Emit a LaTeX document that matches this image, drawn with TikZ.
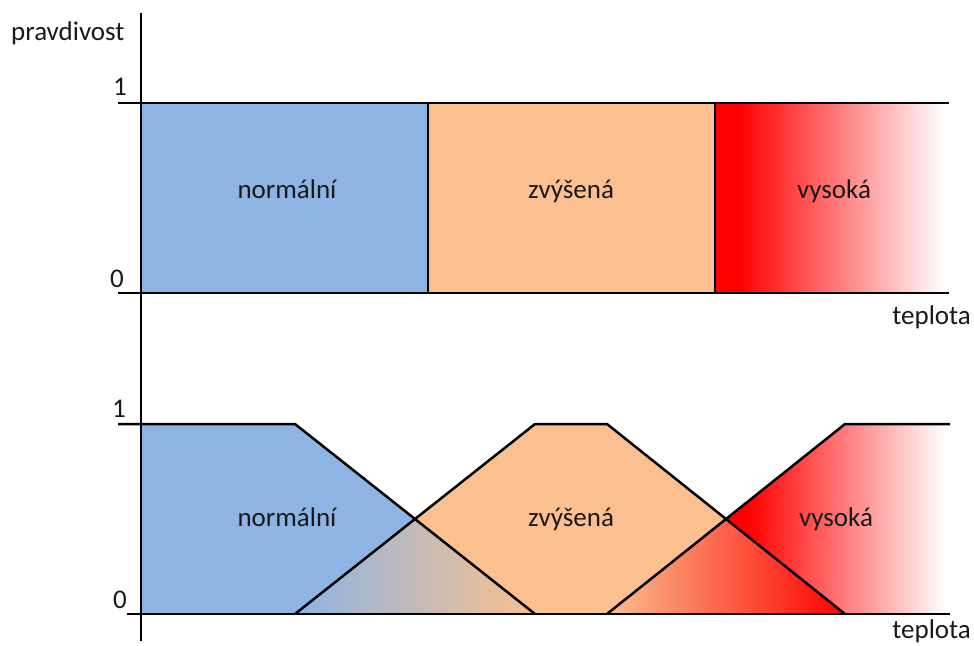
\documentclass[tikz,border=0pt]{standalone}
\usepackage{fontspec}
\setmainfont{Carlito}
\definecolor{fzblue}{RGB}{141,180,226}
\definecolor{fzorange}{RGB}{250,192,143}
\definecolor{fzred}{RGB}{255,0,0}
\definecolor{fztext}{RGB}{25,25,25}
\pgfdeclarehorizontalshading{redfade}{100bp}{color(0bp)=(fzred); color(25bp)=(fzred); color(30bp)=(fzred); color(74bp)=(white); color(100bp)=(white)}
\tikzset{
  axisline/.style={line width=2.6pt, draw=black},
  edgeline/.style={line width=2.5pt, draw=black},
  lbl/.style={font=\fontsize{27}{32}\selectfont, text=fztext, inner sep=0pt, anchor=base},
}
\begin{document}
\begin{tikzpicture}[x=1pt,y=-1pt]
\useasboundingbox (0,0) rectangle (974,645);
% ---------- top chart ----------
\coordinate (tA) at (141,103);
\coordinate (tB) at (428,103);
\coordinate (tC) at (715,103);
\coordinate (tD) at (949,103);
\coordinate (tA0) at (141,293);
\coordinate (tB0) at (428,293);
\coordinate (tC0) at (715,293);
\coordinate (tD0) at (949,293);
\fill[fzblue] (tA) rectangle (tB0);
\fill[fzorange] (tB) rectangle (tC0);
\shade[shading=redfade] (tC) rectangle (tD0);
\coordinate (t1s) at (118,103);
\coordinate (t0s) at (118,293);
\draw[edgeline] (t1s) -- (tD);
\draw[edgeline] (t0s) -- (tD0);
\draw[edgeline] (tB) -- (tB0);
\draw[edgeline] (tC) -- (tC0);
% ---------- bottom chart ----------
\coordinate (bL1) at (141,424);
\coordinate (bL0) at (141,614);
\coordinate (n1) at (295,424);
\coordinate (n0) at (535,614);
\coordinate (z0a) at (295,614);
\coordinate (z1a) at (535,424);
\coordinate (z1b) at (607,424);
\coordinate (z0b) at (845,614);
\coordinate (v0) at (607,614);
\coordinate (v1) at (845,424);
\coordinate (vE1) at (950,424);
\coordinate (vE0) at (950,614);
\coordinate (X1) at (415,519);
\coordinate (X2) at (726,519);
% fills
\fill[fzblue] (bL1) -- (n1) -- (X1) -- (z0a) -- (bL0) -- cycle;
\shade[left color=fzblue, right color=fzorange] (z0a) -- (X1) -- (n0) -- cycle;
\fill[fzorange] (X1) -- (z1a) -- (z1b) -- (X2) -- (v0) -- (n0) -- cycle;
\shade[left color=fzorange, right color=fzred] (v0) -- (X2) -- (z0b) -- cycle;
\shade[shading=redfade] (X2) -- (v1) -- (vE1) -- (vE0) -- (z0b) -- cycle;
% outlines
\coordinate (b1s) at (118,424);
\coordinate (b0s) at (127,614);
\draw[edgeline] (b0s) -- (vE0);
\draw[edgeline, line join=round] (b1s) -- (n1) -- (n0);
\draw[edgeline, line join=round] (z0a) -- (z1a) -- (z1b) -- (z0b);
\draw[edgeline, line join=round] (v0) -- (v1) -- (vE1);
% vertical axis
\coordinate (axT) at (141,13);
\coordinate (axB) at (141,641);
\draw[axisline] (axT) -- (axB);
% ---------- labels ----------
\node[lbl, anchor=base west] (ylab) at (11,40) {pravdivost};
\node[lbl, anchor=base east] (t1) at (127,95) {1};
\node[lbl, anchor=base east] (t0) at (124,287) {0};
\node[lbl, anchor=base east] (b1) at (126,417) {1};
\node[lbl, anchor=base east] (b0) at (127,608) {0};
\node[lbl, anchor=base east] (xlabT) at (971,324) {teplota};
\node[lbl, anchor=base east] (xlabB) at (971,638) {teplota};
\node[lbl] (tn) at (287,198) {normální};
\node[lbl] (tz) at (571,198) {zvýšená};
\node[lbl] (tv) at (834,198) {vysoká};
\node[lbl] (bn) at (287,526) {normální};
\node[lbl] (bz) at (571,526) {zvýšená};
\node[lbl] (bv) at (836,526) {vysoká};
\end{tikzpicture}
\end{document}
